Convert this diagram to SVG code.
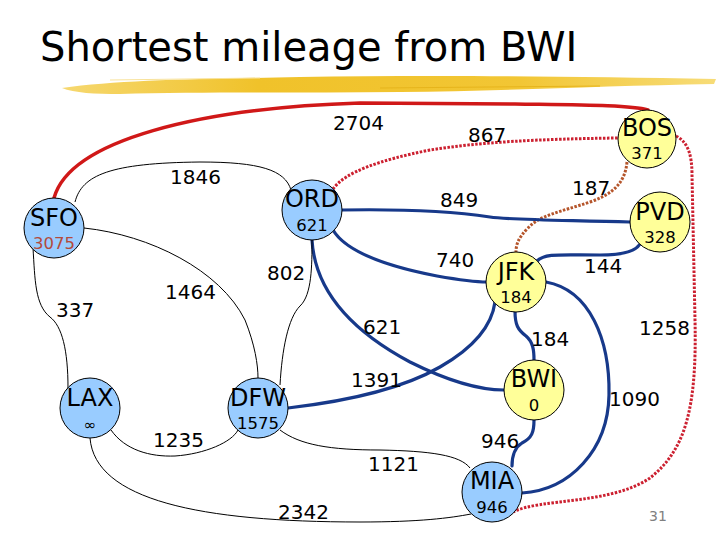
<svg xmlns="http://www.w3.org/2000/svg" width="720" height="540" viewBox="0 0 720 540">
<defs>
<linearGradient id="brush" x1="0" y1="0" x2="1" y2="0">
<stop offset="0" stop-color="#F6D870"/>
<stop offset="0.3" stop-color="#F0C22A"/>
<stop offset="0.7" stop-color="#F2C634"/>
<stop offset="1" stop-color="#F7DC78"/>
</linearGradient>
<style>
.title{font-family:"DejaVu Sans",Verdana,sans-serif;font-size:40px;fill:#000}
.lbl{font-family:"DejaVu Sans",Verdana,sans-serif;font-size:20px;fill:#000}
.nm{font-family:"DejaVu Sans",Verdana,sans-serif;font-size:24px;fill:#000;text-anchor:middle}
.num{font-family:"DejaVu Sans",Verdana,sans-serif;font-size:16.5px;fill:#000;text-anchor:middle}
.blue{fill:#99CCFF;stroke:#000;stroke-width:1}
.yel{fill:#FFFF99;stroke:#000;stroke-width:1}
.thin{fill:none;stroke:#000;stroke-width:1}
.nav{fill:none;stroke:#17398A;stroke-width:3.2;stroke-linecap:round}
.red{fill:none;stroke:#D01818;stroke-width:3.5;stroke-linecap:round}
.rdot{fill:none;stroke:#CC2030;stroke-width:3;stroke-dasharray:2.5 1.5}
.bdot{fill:none;stroke:#B5552B;stroke-width:3;stroke-dasharray:2.5 1.5}
</style>
</defs>
<rect width="720" height="540" fill="#fff"/>
<text class="title" x="40" y="61">Shortest mileage from BWI</text>
<path d="M62,88 C120,80 200,79 300,77 C420,75 560,76 716,79 L714,84 C600,86 500,91 400,92 C300,93 200,92 120,94 C95,94 74,93 62,88 Z" fill="url(#brush)"/>
<path d="M110,80 L260,78" stroke="#F8E29A" stroke-width="1" fill="none"/>
<path d="M380,88 L600,86" stroke="#E6B41C" stroke-width="1" fill="none"/>

<g id="connectors">
<path class="red" d="M54,198 C70,140 200,108 360,103 L515,104 C580,105 630,105 648,110"/>
<path class="rdot" d="M333,189 C345,172 380,160 430,150 C480,142 540,139 618,138"/>
<path class="rdot" d="M676,136 C688,142 692,155 692,175 L695,320 C697,410 685,450 650,478 C610,505 540,498 513,512"/>
<path class="bdot" d="M627,162 C625,185 610,195 590,202 C560,212 540,215 528,228 C518,238 516,245 516,252"/>
<path class="nav" d="M342,210 C400,209 450,211 490,217 C510,220 560,220 630,222"/>
<path class="nav" d="M333,230 C345,250 380,265 437,276 C460,280 475,282 487,282"/>
<path class="nav" d="M312,240 C315,290 350,330 410,362 C450,382 480,390 504,390"/>
<path class="nav" d="M288,408 C340,402 400,390 440,367 C475,347 492,325 495,302"/>
<path class="nav" d="M537,261 C545,253 560,255 600,255 C625,255 638,250 641,242"/>
<path class="nav" d="M515,311 C515,325 518,330 526,336 C533,342 534,350 534,360"/>
<path class="nav" d="M546,282 C590,290 610,340 609,395 C608,450 570,490 522,493"/>
<path class="nav" d="M534,420 C534,432 532,438 522,443 C514,448 512,458 512,466"/>
<path class="thin" d="M75,202 C82,175 110,163 200,162 C260,162 285,170 291,190"/>
<path class="thin" d="M84,228 C150,235 220,270 245,320 C255,345 258,365 258,378"/>
<path class="thin" d="M312,240 C312,265 312,295 300,306 C288,318 282,350 280,385"/>
<path class="thin" d="M33,248 C35,280 35,305 50,317 C62,326 68,350 68,388"/>
<path class="thin" d="M111,430 C125,450 150,457 175,456 C205,454 232,442 238,430"/>
<path class="thin" d="M90,438 C95,500 200,522 360,522 C420,522 450,518 471,514"/>
<path class="thin" d="M280,430 C300,445 330,450 380,450 C430,451 460,455 470,468"/>
</g>

<g id="edge-labels">
<text class="lbl" x="333" y="130">2704</text>
<text class="lbl" x="468" y="142">867</text>
<text class="lbl" x="170" y="184">1846</text>
<text class="lbl" x="572" y="195">187</text>
<text class="lbl" x="440" y="207">849</text>
<text class="lbl" x="436" y="267">740</text>
<text class="lbl" x="267" y="280">802</text>
<text class="lbl" x="584" y="273">144</text>
<text class="lbl" x="165" y="299">1464</text>
<text class="lbl" x="56" y="317">337</text>
<text class="lbl" x="363" y="334">621</text>
<text class="lbl" x="531" y="346">184</text>
<text class="lbl" x="639" y="335">1258</text>
<text class="lbl" x="351" y="387">1391</text>
<text class="lbl" x="609" y="406">1090</text>
<text class="lbl" x="153" y="447">1235</text>
<text class="lbl" x="481" y="448">946</text>
<text class="lbl" x="368" y="471">1121</text>
<text class="lbl" x="278" y="519">2342</text>
<text x="649" y="521" font-family="DejaVu Sans,Verdana,sans-serif" font-size="14" fill="#808080">31</text>
</g>

<g id="SFO"><circle class="blue" cx="54" cy="228" r="30"/><text class="nm" x="54" y="226">SFO</text><text class="num" x="54" y="249" style="fill:#B34A3C">3075</text></g>
<g id="ORD"><circle class="blue" cx="312" cy="210" r="30"/><text class="nm" x="312" y="207">ORD</text><text class="num" x="312" y="231">621</text></g>
<g id="BOS"><circle class="yel" cx="647" cy="139" r="29"/><text class="nm" x="647" y="136">BOS</text><text class="num" x="647" y="159">371</text></g>
<g id="PVD"><circle class="yel" cx="660" cy="222" r="30"/><text class="nm" x="660" y="220">PVD</text><text class="num" x="660" y="243">328</text></g>
<g id="JFK"><circle class="yel" cx="516" cy="282" r="30"/><text class="nm" x="516" y="280">JFK</text><text class="num" x="516" y="303">184</text></g>
<g id="BWI"><circle class="yel" cx="534" cy="390" r="30"/><text class="nm" x="534" y="387">BWI</text><text class="num" x="534" y="411">0</text></g>
<g id="MIA"><circle class="blue" cx="492" cy="492" r="30"/><text class="nm" x="492" y="489">MIA</text><text class="num" x="492" y="513">946</text></g>
<g id="LAX"><circle class="blue" cx="90" cy="408" r="30"/><text class="nm" x="90" y="406">LAX</text><text class="num" x="90" y="430" style="font-size:15px">∞</text></g>
<g id="DFW"><circle class="blue" cx="258" cy="408" r="30"/><text class="nm" x="258" y="406">DFW</text><text class="num" x="258" y="429">1575</text></g>
</svg>
